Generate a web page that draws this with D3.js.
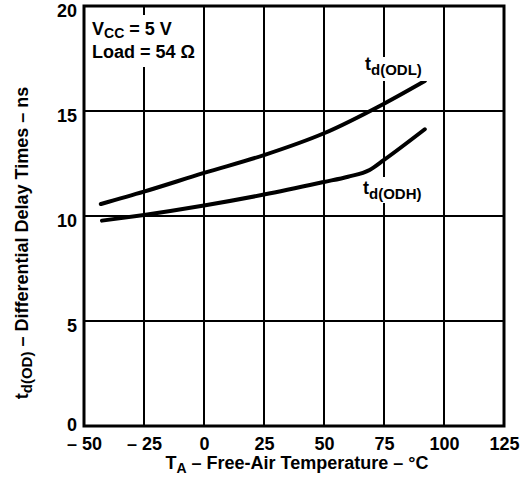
<!DOCTYPE html>
<html>
<head>
<meta charset="utf-8">
<script src="https://cdn.jsdelivr.net/npm/d3@7"></script>
<style>
  html, body { margin: 0; padding: 0; background: #fff; }
  svg { display: block; }
  text { font-family: "Liberation Sans", Arial, Helvetica, sans-serif; font-weight: bold; fill: #000; }
</style>
</head>
<body>
<svg id="chart" width="524" height="484"></svg>
<script>
// ---- data ----
const xTicks = [-50, -25, 0, 25, 50, 75, 100, 125];
const yTicks = [0, 5, 10, 15, 20];
const odlTemp = [-43, -25, 0, 25, 50, 75, 92];
const odlDelay = [10.57, 11.16, 12.05, 12.9, 13.94, 15.35, 16.43];
const odhTemp = [-42.5, -25, 0, 25, 50, 60, 69, 75, 92];
const odhDelay = [9.78, 10.05, 10.5, 11.02, 11.62, 11.87, 12.19, 12.67, 14.13];

const svg = d3.select("#chart");
const m = { left: 84, right: 504, top: 6, bottom: 426 };
const x = d3.scaleLinear().domain([-50, 125]).range([m.left, m.right]);
const y = d3.scaleLinear().domain([0, 20]).range([m.bottom, m.top]);

// gridlines
const grid = svg.append("g");
grid.selectAll("line.v").data(xTicks.slice(1, -1)).enter().append("line")
  .attr("x1", d => x(d)).attr("x2", d => x(d))
  .attr("y1", m.top).attr("y2", m.bottom)
  .attr("stroke", "#000").attr("stroke-width", 2);
grid.selectAll("line.h").data(yTicks.slice(1, -1)).enter().append("line")
  .attr("y1", d => y(d)).attr("y2", d => y(d))
  .attr("x1", m.left).attr("x2", m.right)
  .attr("stroke", "#000").attr("stroke-width", 2);

// axes (labels only)
const xAxis = d3.axisBottom(x).tickValues(xTicks).tickSize(0).tickPadding(0)
  .tickFormat(d => d < 0 ? "\u2013 " + Math.abs(d) : String(d));
const gx = svg.append("g").attr("transform", `translate(0,${m.bottom})`).call(xAxis);
gx.select(".domain").remove();
gx.selectAll("text").attr("font-size", 18).attr("font-family", null).attr("dy", null).attr("y", 24);

const yAxis = d3.axisLeft(y).tickValues(yTicks).tickSize(0).tickPadding(0);
const gy = svg.append("g").attr("transform", `translate(${m.left - 7},0)`).call(yAxis);
gy.select(".domain").remove();
gy.selectAll("text").attr("font-size", 18).attr("font-family", null)
  .attr("dy", (d, i) => i === 0 ? "0.25em" : "0.6em").attr("x", 0);

// curves
const line = d3.line().x(d => x(d[0])).y(d => y(d[1])).curve(d3.curveMonotoneX);
svg.append("path").datum(d3.zip(odlTemp, odlDelay)).attr("d", line)
  .attr("fill", "none").attr("stroke", "#000").attr("stroke-width", 4).attr("stroke-linecap", "round");
svg.append("path").datum(d3.zip(odhTemp, odhDelay)).attr("d", line)
  .attr("fill", "none").attr("stroke", "#000").attr("stroke-width", 4).attr("stroke-linecap", "round");

// frame
svg.append("rect").attr("x", m.left).attr("y", m.top)
  .attr("width", m.right - m.left).attr("height", m.bottom - m.top)
  .attr("fill", "none").attr("stroke", "#000").attr("stroke-width", 3);

// annotation boxes (white background)
svg.append("rect").attr("x", 88).attr("y", 15).attr("width", 110).attr("height", 52).attr("fill", "#fff");
svg.append("rect").attr("x", 364).attr("y", 57).attr("width", 66).attr("height", 24).attr("fill", "#fff");
svg.append("rect").attr("x", 362).attr("y", 177).attr("width", 68).attr("height", 26).attr("fill", "#fff");

// conditions text
const t1 = svg.append("text").attr("x", 92).attr("y", 35).attr("font-size", 18);
t1.append("tspan").text("V");
t1.append("tspan").attr("font-size", 14).attr("dy", 3).text("CC");
t1.append("tspan").attr("dy", -3).text(" = 5 V");
svg.append("text").attr("x", 92).attr("y", 58).attr("font-size", 18).text("Load = 54 \u03A9");

// curve labels
function subLabel(xp, yp, main, sub) {
  const t = svg.append("text").attr("x", xp).attr("y", yp).attr("font-size", 18);
  t.append("tspan").text(main);
  t.append("tspan").attr("font-size", 15).attr("dy", 5).text(sub);
}
subLabel(365, 70, "t", "d(ODL)");
subLabel(363, 194, "t", "d(ODH)");

// axis titles
const xt = svg.append("text").attr("x", 297).attr("y", 469).attr("font-size", 18).attr("text-anchor", "middle");
xt.append("tspan").text("T");
xt.append("tspan").attr("font-size", 14).attr("dy", 4).text("A");
xt.append("tspan").attr("dy", -4).text(" \u2013 Free-Air Temperature \u2013 \u00B0C");

const yt = svg.append("text").attr("transform", "translate(28,243) rotate(-90)")
  .attr("font-size", 18).attr("text-anchor", "middle");
yt.append("tspan").text("t");
yt.append("tspan").attr("font-size", 15).attr("dy", 4).text("d(OD)");
yt.append("tspan").attr("dy", -4).text("  \u2013 Differential Delay Times \u2013 ns");
</script>
</body>
</html>
